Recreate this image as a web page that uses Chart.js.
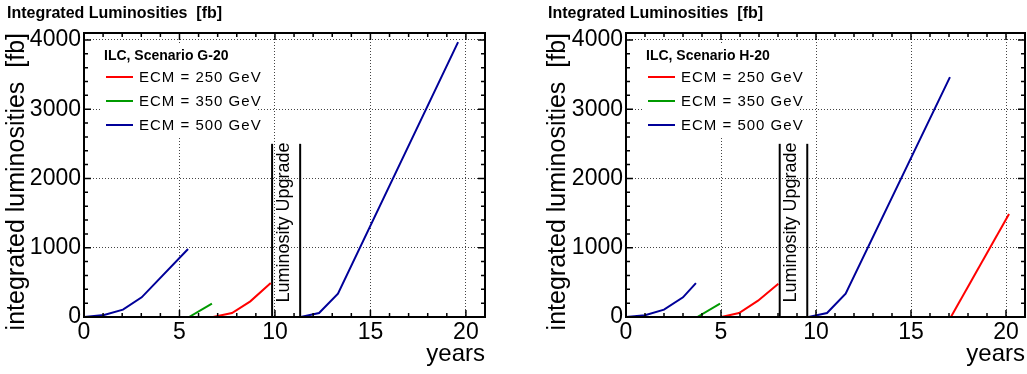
<!DOCTYPE html>
<html>
<head>
<meta charset="utf-8">
<script src="https://cdn.jsdelivr.net/npm/chart.js@4.4.1/dist/chart.umd.min.js"></script>
<style>
  body { margin: 0; background: #fff; width: 1027px; height: 374px; overflow: hidden; position: relative; }
  .panel { position: absolute; top: 0; height: 374px; }
</style>
</head>
<body>
<div class="panel" style="left:0;width:540px"><canvas id="g20"></canvas></div>
<div class="panel" style="left:541px;width:486px"><canvas id="h20"></canvas></div>
<script>
"use strict";
// ILC running scenario G-20 (years, integrated luminosity in fb)
const g20_250_x = [6.76, 7.75, 8.71, 9.78];
const g20_250_y = [0, 58, 226, 490];
const g20_350_x = [5.5, 6.7];
const g20_350_y = [0, 192];
const g20_500a_x = [0, 1.05, 2.04, 3.02, 5.45];
const g20_500a_y = [0, 30, 106, 284, 981];
const g20_500b_x = [11.35, 12.31, 13.3, 19.59];
const g20_500b_y = [0, 58, 337, 3968];
const g20_upgrade = [9.85, 11.32];

// ILC running scenario H-20
const h20_250a_x = [5.02, 5.95, 6.95, 8.02];
const h20_250a_y = [0, 58, 236, 481];
const h20_250b_x = [17.1, 20.16];
const h20_250b_y = [0, 1486];
const h20_350_x = [3.75, 4.95];
const h20_350_y = [0, 192];
const h20_500a_x = [0, 1, 2, 3, 3.68];
const h20_500a_y = [0, 25, 106, 284, 490];
const h20_500b_x = [9.61, 10.58, 11.56, 17.05];
const h20_500b_y = [0, 58, 337, 3463];
const h20_upgrade = [8.09, 9.54];

const upgradeTop = 2500;
const upgradeTextFrom = 210;
const legendLabels = ["ECM = 250 GeV", "ECM = 350 GeV", "ECM = 500 GeV"];
const legendColors = ["#ff0000", "#009a00", "#000099"];
const xTicks = [0, 5, 10, 15, 20];
const yTicks = [0, 1000, 2000, 3000, 4000];

const FONT = "'Liberation Sans', Arial, Helvetica, sans-serif";

function pts(xs, ys) {
  return xs.map(function (x, i) { return { x: x, y: ys[i] }; });
}
function line(xs, ys, color) {
  return { data: pts(xs, ys), borderColor: color, borderWidth: 2, pointRadius: 0, tension: 0, fill: false };
}
function upgradeLine(x) {
  return line([x, x], [0, upgradeTop], "#000");
}

// ROOT-like frame: inside ticks, legend box, annotations
const rootStyle = {
  id: "rootStyle",
  beforeDatasetsDraw: function (chart) {
    const a = chart.chartArea, c = chart.ctx;
    c.save();
    c.fillStyle = "#fff";
    c.fillRect(a.left + 16, a.top + 10, 157, 95);
    c.restore();
  },
  afterDatasetsDraw: function (chart, args, o) {
    const a = chart.chartArea, c = chart.ctx, xs = chart.scales.x, ys = chart.scales.y;
    c.save();
    // ticks
    c.strokeStyle = "#000";
    c.lineWidth = 1.5;
    c.beginPath();
    for (let v = xs.min; v <= xs.max; v++) {
      const px = xs.getPixelForValue(v), len = v % 5 ? 4 : 7;
      c.moveTo(px, a.bottom); c.lineTo(px, a.bottom - len);
      c.moveTo(px, a.top); c.lineTo(px, a.top + len);
    }
    for (let v = ys.min; v <= ys.max; v += 200) {
      const py = ys.getPixelForValue(v), len = v % 1000 ? 4 : 7;
      c.moveTo(a.left, py); c.lineTo(a.left + len, py);
      c.moveTo(a.right, py); c.lineTo(a.right - len, py);
    }
    c.stroke();
    c.lineWidth = 2;
    c.strokeRect(a.left, a.top, a.right - a.left, a.bottom - a.top);

    // legend
    c.fillStyle = "#000";
    c.textAlign = "left";
    c.textBaseline = "alphabetic";
    c.font = "bold 14px " + FONT;
    c.fillText(o.scenario, a.left + 20, a.top + 27);
    c.font = "15px " + FONT;
    c.letterSpacing = "1px";
    c.textBaseline = "middle";
    legendLabels.forEach(function (t, i) {
      const y = a.top + 44 + i * 24;
      c.strokeStyle = legendColors[i];
      c.lineWidth = 2;
      c.beginPath(); c.moveTo(a.left + 22, y); c.lineTo(a.left + 49, y); c.stroke();
      c.fillText(t, a.left + 55, y + 1);
    });
    c.letterSpacing = "0px";

    // luminosity upgrade label
    const mid = (xs.getPixelForValue(o.upgrade[0]) + xs.getPixelForValue(o.upgrade[1])) / 2 - 2;
    c.save();
    c.translate(mid, ys.getPixelForValue(upgradeTextFrom));
    c.rotate(-Math.PI / 2);
    c.font = "18px " + FONT;
    c.textBaseline = "middle";
    c.fillText("Luminosity Upgrade", 0, 0);
    c.restore();

    // pad title
    c.font = "bold 16px " + FONT;
    c.textBaseline = "alphabetic";
    c.fillText("Integrated Luminosities  [fb]", 7, 18);
    c.restore();
  }
};

function fixTicks(values) {
  return function (s) { s.ticks = values.map(function (v) { return { value: v }; }); };
}

function makeChart(id, datasets, scenario, upgrade, yWidth, padRight) {
  const tickFont = { family: FONT, size: 23 };
  const grid = { color: "#444", lineWidth: 1, drawTicks: false };
  const border = { display: false, dash: [1, 2] };
  return new Chart(document.getElementById(id), {
    type: "line",
    data: { datasets: datasets },
    plugins: [rootStyle],
    options: {
      responsive: true,
      maintainAspectRatio: false,
      animation: false,
      devicePixelRatio: 1,
      layout: { padding: { top: 33, right: padRight, left: 0, bottom: 0 } },
      plugins: {
        legend: { display: false },
        tooltip: { enabled: false },
        rootStyle: { scenario: scenario, upgrade: upgrade }
      },
      scales: {
        x: {
          type: "linear", min: 0, max: 21,
          afterBuildTicks: fixTicks(xTicks),
          afterFit: function (s) { s.height = 57; },
          ticks: { padding: 2, maxRotation: 0, autoSkip: false, color: "#000", font: tickFont,
            callback: function (v) { return String(v); } },
          grid: grid, border: border,
          title: { display: true, text: "years", align: "end", color: "#000", font: { family: FONT, size: 24 }, padding: { top: 0, bottom: 5 } }
        },
        y: {
          type: "linear", min: 0, max: 4100,
          afterBuildTicks: fixTicks(yTicks),
          afterFit: function (s) { s.width = yWidth; },
          ticks: { padding: 3, autoSkip: false, color: "#000", font: tickFont,
            callback: function (v) { return String(v); } },
          grid: grid, border: border,
          title: { display: true, text: "integrated luminosities  [fb]", align: "end", color: "#000", font: { family: FONT, size: 25 }, padding: { top: 2, bottom: 0 } }
        }
      }
    }
  });
}

makeChart("g20", [
  line(g20_500a_x, g20_500a_y, legendColors[2]),
  line(g20_350_x, g20_350_y, legendColors[1]),
  line(g20_250_x, g20_250_y, legendColors[0]),
  line(g20_500b_x, g20_500b_y, legendColors[2]),
  upgradeLine(g20_upgrade[0]),
  upgradeLine(g20_upgrade[1])
], "ILC, Scenario G-20", g20_upgrade, 84, 55);

makeChart("h20", [
  line(h20_500a_x, h20_500a_y, legendColors[2]),
  line(h20_350_x, h20_350_y, legendColors[1]),
  line(h20_250a_x, h20_250a_y, legendColors[0]),
  line(h20_500b_x, h20_500b_y, legendColors[2]),
  line(h20_250b_x, h20_250b_y, legendColors[0]),
  upgradeLine(h20_upgrade[0]),
  upgradeLine(h20_upgrade[1])
], "ILC, Scenario H-20", h20_upgrade, 85, 2);
</script>
</body>
</html>
